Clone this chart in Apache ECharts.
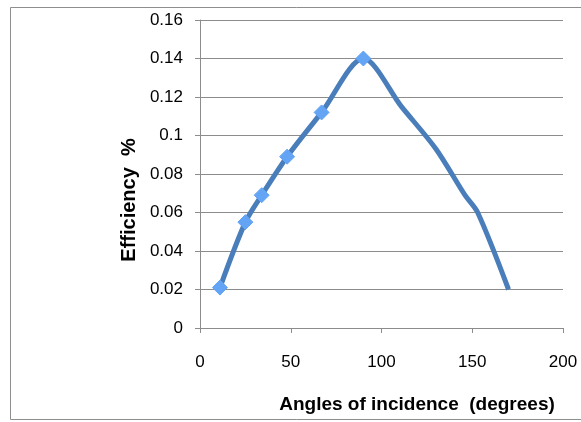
<!DOCTYPE html>
<html>
<head>
<meta charset="utf-8">
<script src="https://cdn.jsdelivr.net/npm/echarts@6/dist/echarts.min.js"></script>
<style>
html,body{margin:0;padding:0;background:#fff;}
#chart{width:581px;height:422px;}
</style>
</head>
<body>
<div id="chart"></div>
<script>
// Data
const angles = [11, 25, 34, 48, 67, 90, 111, 130, 146, 153, 170];
const efficiency = [0.021, 0.055, 0.069, 0.089, 0.112, 0.140, 0.115, 0.093, 0.069, 0.060, 0.020];
const markedCount = 6; // first points carry diamond markers
const xTicks = [0, 50, 100, 150, 200];
const yTicks = [0, 0.02, 0.04, 0.06, 0.08, 0.1, 0.12, 0.14, 0.16];
const xTitle = 'Angles of incidence  (degrees)';
const yTitle = 'Efficiency  %';

const FONT = "'Liberation Sans', Arial, sans-serif";
const seriesData = angles.map((a, i) => ({
  value: [a, efficiency[i]],
  symbol: i < markedCount ? 'diamond' : 'none'
}));

const chart = echarts.init(document.getElementById('chart'), null, {renderer: 'canvas'});
chart.setOption({
  animation: false,
  backgroundColor: '#fff',
  graphic: [{
    type: 'rect',
    shape: {x: 10.5, y: 7.5, width: 600, height: 412},
    style: {fill: 'none', stroke: '#8e8e8e', lineWidth: 1},
    silent: true, z: -1
  }],
  grid: {left: 200, right: 18, top: 20, bottom: 94, containLabel: false},
  xAxis: {
    type: 'value',
    min: xTicks[0], max: xTicks[xTicks.length - 1], interval: 50,
    name: xTitle,
    nameLocation: 'middle',
    nameGap: 67,
    nameTextStyle: {fontFamily: FONT, fontWeight: 'bold', fontSize: 19, color: '#000', padding: [0, 0, 0, 71]},
    axisLine: {show: true, lineStyle: {color: '#8c8c8c', width: 1}},
    axisTick: {show: true, inside: false, length: 5, lineStyle: {color: '#8c8c8c'}},
    axisLabel: {fontFamily: FONT, fontSize: 17, color: '#000', margin: 26},
    splitLine: {show: false}
  },
  yAxis: {
    type: 'value',
    min: yTicks[0], max: yTicks[yTicks.length - 1], interval: 0.02,
    name: yTitle,
    nameLocation: 'middle',
    nameGap: 58,
    nameRotate: 90,
    nameTextStyle: {fontFamily: FONT, fontWeight: 'bold', fontSize: 20, color: '#000', padding: [0, 52, 0, 0]},
    axisLine: {show: true, lineStyle: {color: '#8c8c8c', width: 1}},
    axisTick: {show: true, inside: false, length: 5, lineStyle: {color: '#8c8c8c'}},
    axisLabel: {fontFamily: FONT, fontSize: 17, color: '#000', margin: 17,
      formatter: v => String(+v.toFixed(2))},
    splitLine: {show: true, lineStyle: {color: '#8c8c8c', width: 1}}
  },
  series: [{
    type: 'line',
    data: seriesData,
    smooth: 0.3,
    lineStyle: {color: '#4a7ebb', width: 5},
    itemStyle: {color: '#63a4f5', borderColor: '#63a4f5', borderWidth: 1},
    symbolSize: 15,
    showSymbol: true
  }]
});
</script>
</body>
</html>
